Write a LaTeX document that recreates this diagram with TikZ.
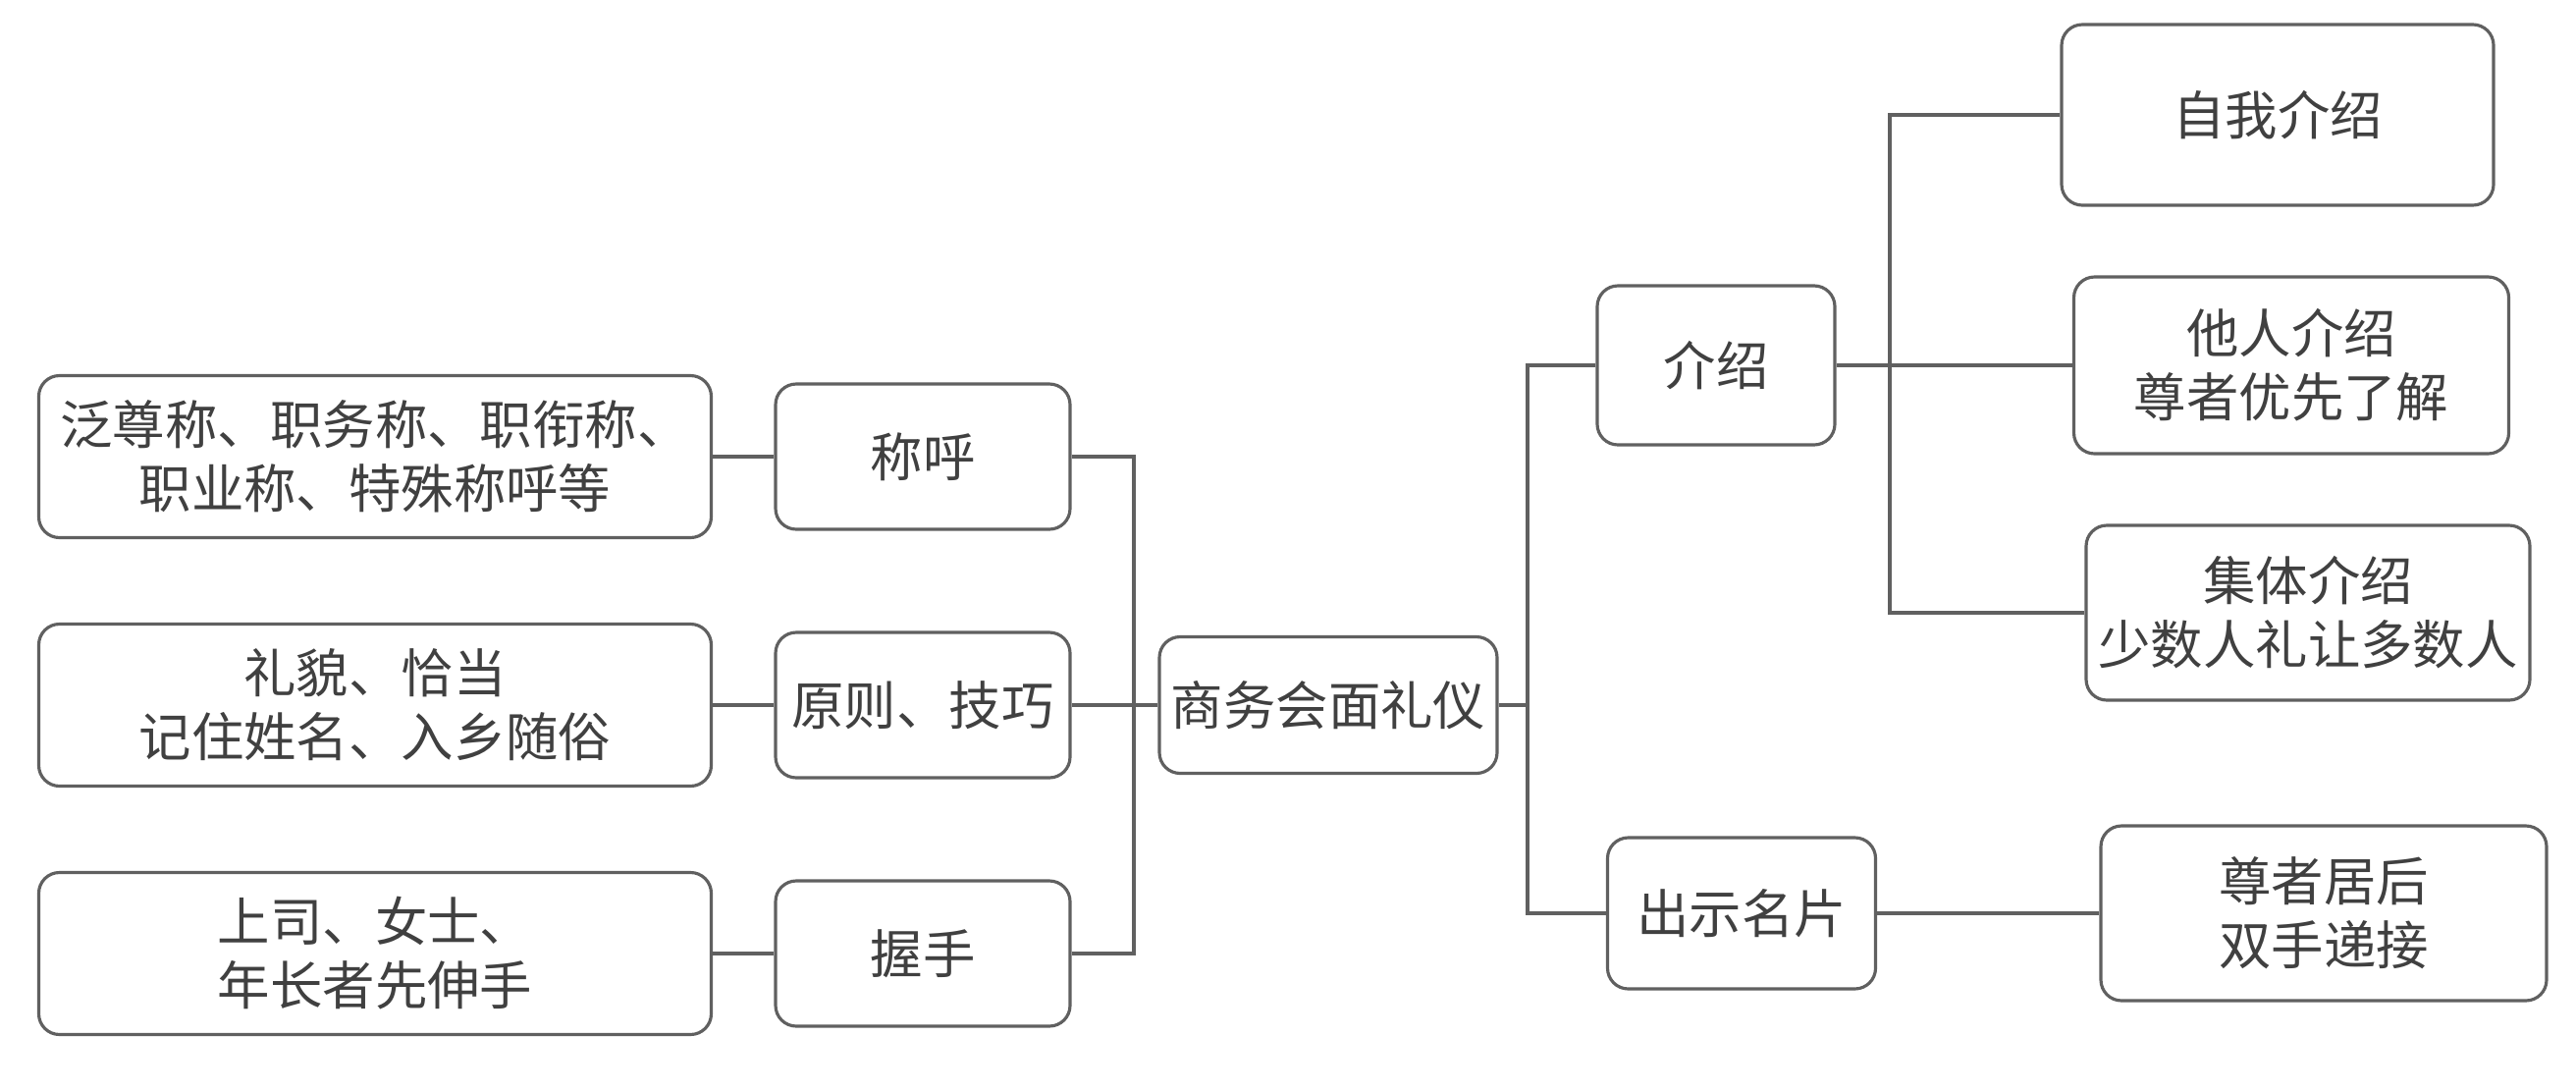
\documentclass[tikz,border=0pt]{standalone}
\usepackage{fontspec}
\setmainfont{Noto Sans CJK SC}
\usepackage{tikz}
\usetikzlibrary{positioning}
\usetikzlibrary{calc}

\begin{document}
\begin{tikzpicture}[box/.style={draw=gray!75!black, line width=0.9pt, rounded corners=6pt, align=center, inner sep=2pt, text=black!75, font=\fontsize{15.2}{18.5}\selectfont},
    leaf/.style={box, minimum width=6.85cm, minimum height=1.65cm},
    mid/.style={box, minimum width=3cm, minimum height=1.48cm},
    link/.style={draw=gray!75!black, line width=0.9pt}]
    \useasboundingbox (0,0) rectangle (26.24,11.10);

        % centre
        \node[box, minimum width=3.44cm, minimum height=1.39cm] (hub) at (13.53,3.92) {商务会面礼仪};

        % left side
        \node[mid] (ch) at (9.40,6.45) {称呼};
        \node[mid] (yz) at (9.40,3.92) {原则、技巧};
        \node[mid] (ws) at (9.40,1.39) {握手};
        \node[leaf] (l1) at (3.82,6.45) {泛尊称、职务称、职衔称、\\职业称、特殊称呼等};
        \node[leaf] (l2) at (3.82,3.92) {礼貌、恰当\\记住姓名、入乡随俗};
        \node[leaf] (l3) at (3.82,1.39) {上司、女士、\\年长者先伸手};

        % right side
        \node[box, minimum width=2.42cm, minimum height=1.62cm] (js) at (17.48,7.38) {介绍};
        \node[box, minimum width=2.73cm, minimum height=1.54cm] (mp) at (17.74,1.80) {出示名片};
        \node[box, minimum width=4.4cm, minimum height=1.84cm] (r1) at (23.20,9.93) {自我介绍};
        \node[box, minimum width=4.43cm, minimum height=1.8cm] (r2) at (23.34,7.38) {他人介绍\\尊者优先了解};
        \node[box, minimum width=4.52cm, minimum height=1.78cm] (r3) at (23.51,4.86) {集体介绍\\少数人礼让多数人};
        \node[box, minimum width=4.54cm, minimum height=1.78cm] (r4) at (23.67,1.80) {尊者居后\\双手递接};

        \coordinate (lb) at (11.55,3.92);
        \coordinate (rb) at (15.56,3.92);
        \coordinate (jb) at (19.25,7.38);

        \draw[link] (l1) -- (ch);
        \draw[link] (l2) -- (yz);
        \draw[link] (l3) -- (ws);
        \draw[link] (ch.east) -| (lb) |- (ws.east);
        \draw[link] (yz.east) -- (hub.west);
        \draw[link] (hub.east) -- (rb);
        \draw[link] (js.west) -| (rb) |- (mp.west);
        \draw[link] (r1.west) -| (jb) |- (r3.west);
        \draw[link] (js.east) -- (r2.west);
        \draw[link] (mp.east) -- (r4.west);

\end{tikzpicture}
\end{document}
